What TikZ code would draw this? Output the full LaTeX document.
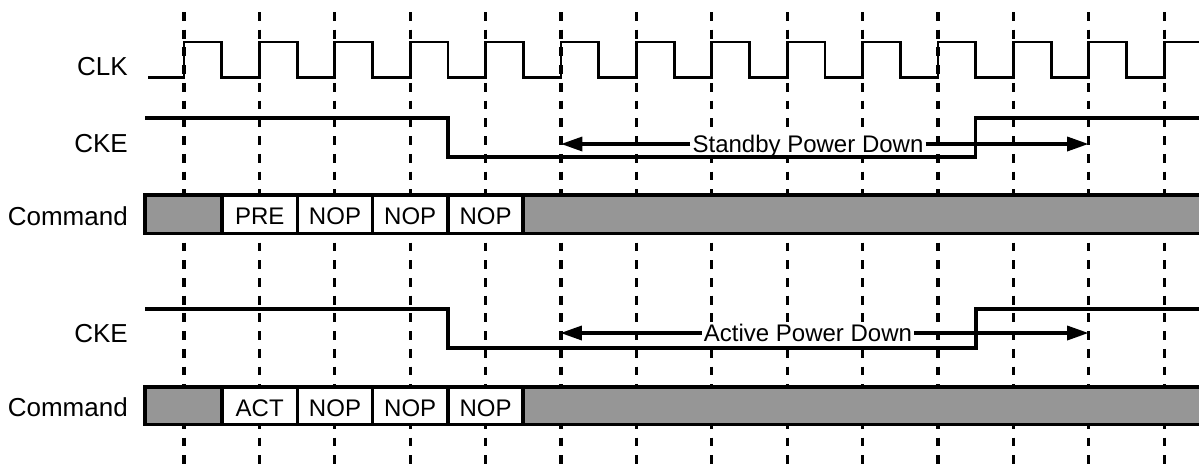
\documentclass[tikz,border=0pt]{standalone}
\usepackage{fontspec}
\setmainfont{Liberation Sans}
\usetikzlibrary{arrows.meta}
\definecolor{cmdgray}{RGB}{150,150,150}
\begin{document}
\begin{tikzpicture}[x=0.75pt,y=-0.75pt,
  gridline/.style={line width=2.5pt, dash pattern=on 6.6pt off 6.7pt},
  sig/.style={line width=2.5pt},
  clksig/.style={line width=2.1pt},
  lbl/.style={font=\fontsize{19.5}{22}\selectfont, inner sep=0pt},
  celltxt/.style={font=\fontsize{18}{20}\selectfont, inner sep=0pt},
  spanlbl/.style={font=\fontsize{18}{20}\selectfont, fill=white, inner xsep=1.5pt, inner ysep=1pt},
  tip/.style={line width=2.5pt, -{Triangle[length=16pt,width=10.5pt]}},
  boxline/.style={line width=2.5pt}]
\useasboundingbox (0,0) rectangle (1199,465);
% vertical dashed grid
\foreach \k in {0,...,13} \draw[gridline] ({184+75.4*\k},12) -- ({184+75.4*\k},470);
% CLK
\draw[clksig] (148,77.5) \foreach \k in {0,...,12} { -- ({184+75.4*\k},77.5) -- ({184+75.4*\k},42) -- ({221.7+75.4*\k},42) -- ({221.7+75.4*\k},77.5) } -- (1164.2,77.5) -- (1164.2,42) -- (1210,42);
% labels
\node[lbl, anchor=base east] (clkl) at (128,75) {CLK};
\node[lbl, anchor=base east] (cke1l) at (128,152) {CKE};
\node[lbl, anchor=base east] (cmd1l) at (128,225) {Command};
\node[lbl, anchor=base east] (cke2l) at (128,342) {CKE};
\node[lbl, anchor=base east] (cmd2l) at (128,416) {Command};
% span labels (white background hides the grid)
\node[spanlbl, anchor=base] (s1) at (808,152) {Standby Power Down};
\node[spanlbl, anchor=base] (s2) at (808,341) {Active Power Down};
% CKE 1
\draw[sig] (145,118) -- (448,118) -- (448,157) -- (975.5,157) -- (975.5,118) -- (1210,118);
\coordinate (l1) at (561,144);
\coordinate (r1) at (1088.5,144);
\draw[tip] (s1.west |- l1) -- (l1);
\draw[tip] (s1.east |- r1) -- (r1);
% Command 1
\fill[cmdgray] (145,195) rectangle (1210,233.5);
\fill[white] (222,195) rectangle (523,233.5);
\draw[boxline] (1210,195) -- (145,195) -- (145,233.5) -- (1210,233.5);
\foreach \x in {222,297.5,372.5,448,523} \draw[boxline] (\x,195) -- (\x,233.5);
\node[celltxt, anchor=base] (c1a) at (259.7,224) {PRE};
\node[celltxt, anchor=base] (c1b) at (335,224) {NOP};
\node[celltxt, anchor=base] (c1c) at (410.2,224) {NOP};
\node[celltxt, anchor=base] (c1d) at (485.5,224) {NOP};
% CKE 2
\draw[sig] (145,309) -- (448,309) -- (448,348) -- (976,348) -- (976,309) -- (1210,309);
\coordinate (l2) at (560.5,333);
\coordinate (r2) at (1088.5,333);
\draw[tip] (s2.west |- l2) -- (l2);
\draw[tip] (s2.east |- r2) -- (r2);
% Command 2
\fill[cmdgray] (145,387) rectangle (1210,424.5);
\fill[white] (222,387) rectangle (523,424.5);
\draw[boxline] (1210,387) -- (145,387) -- (145,424.5) -- (1210,424.5);
\foreach \x in {222,297.5,372.5,448,523} \draw[boxline] (\x,387) -- (\x,424.5);
\node[celltxt, anchor=base] (c2a) at (259.7,416) {ACT};
\node[celltxt, anchor=base] (c2b) at (335,416) {NOP};
\node[celltxt, anchor=base] (c2c) at (410.2,416) {NOP};
\node[celltxt, anchor=base] (c2d) at (485.5,416) {NOP};
\end{tikzpicture}
\end{document}
